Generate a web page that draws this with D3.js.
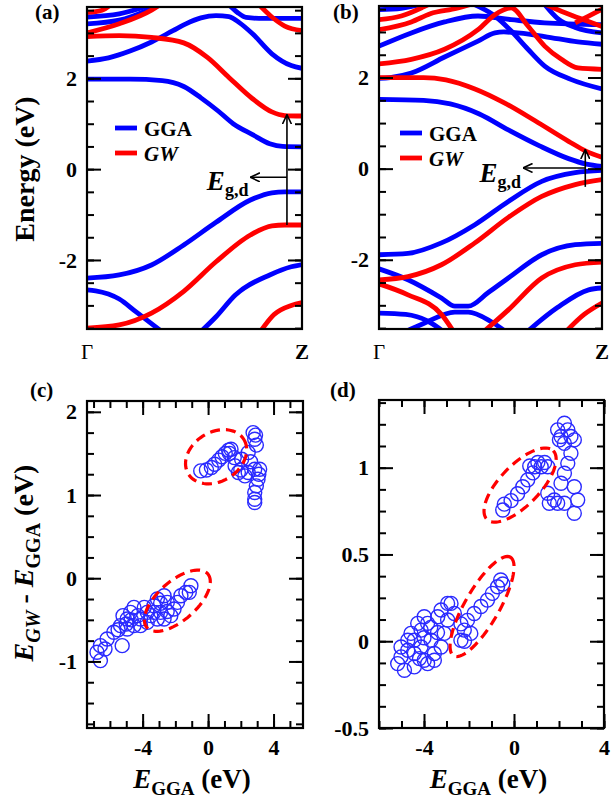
<!DOCTYPE html>
<html>
<head>
<meta charset="utf-8">
<script src="https://cdnjs.cloudflare.com/ajax/libs/d3/7.8.5/d3.min.js"></script>
<style>
body { margin: 0; background: #fff; }
svg text { font-family: "Liberation Serif", "Times New Roman", serif; font-weight: bold; }
</style>
</head>
<body>
<div id="fig"></div>
<script>
// ---------- data ----------
var kLabels = ["Γ", "Z"];
var bandRange = [-3.52, 3.57];
var bandMajor = [-2, 0, 2];
var bandMinor = d3.range(-7, 8).map(function (i) { return i * 0.5; });

// band structure (a), [k, E] with k from Γ (0) to Z (1)
var ggaA = [
    [[0, 1.98], [0.2, 1.98], [0.35, 1.95], [0.45, 1.82], [0.53, 1.57], [0.61, 1.28], [0.68, 1.0], [0.77, 0.76], [0.85, 0.56], [0.91, 0.5], [1, 0.49]],
    [[0, 2.38], [0.1, 2.45], [0.2, 2.6], [0.3, 2.8], [0.4, 3.05], [0.46, 3.2], [0.53, 3.33], [0.6, 3.38], [0.66, 3.36], [0.71, 3.22], [0.77, 2.98], [0.86, 2.54], [0.95, 2.28], [1, 2.22]],
    [[0.66, 3.62], [0.7, 3.45], [0.74, 3.34], [0.8, 3.32], [1, 3.32]],
    [[0, 3.35], [0.15, 3.42], [0.3, 3.62]],
    [[0, 3.2], [0.15, 3.28], [0.27, 3.48], [0.33, 3.62]],
    [[0, -2.4], [0.15, -2.33], [0.3, -2.11], [0.45, -1.67], [0.6, -1.17], [0.76, -0.68], [0.86, -0.52], [0.92, -0.5], [1, -0.5]],
    [[0, -2.66], [0.04, -2.68], [0.15, -2.86], [0.23, -3.15], [0.36, -3.62]],
    [[0.52, -3.62], [0.6, -3.25], [0.69, -2.77], [0.85, -2.33], [0.95, -2.15], [1, -2.1]]
];
var gwA = [
    [[0, 2.92], [0.15, 2.94], [0.3, 2.9], [0.45, 2.78], [0.56, 2.46], [0.66, 2.02], [0.77, 1.55], [0.86, 1.26], [0.92, 1.18], [1, 1.17]],
    [[0, 3.0], [0.15, 3.2], [0.3, 3.5], [0.34, 3.62]],
    [[0, 3.45], [0.07, 3.5], [0.11, 3.62]],
    [[0.8, 3.62], [0.86, 3.35], [0.92, 3.15], [1, 3.05]],
    [[0, -3.5], [0.15, -3.43], [0.3, -3.17], [0.45, -2.69], [0.6, -2.04], [0.76, -1.45], [0.86, -1.25], [0.92, -1.23], [1, -1.23]],
    [[0.8, -3.62], [0.87, -3.2], [0.95, -3.0], [1, -2.94]]
];

// band structure (b)
var ggaB = [
    [[0, 1.52], [0.2, 1.5], [0.32, 1.42], [0.45, 1.2], [0.58, 0.85], [0.72, 0.5], [0.85, 0.22], [0.93, 0.1], [1, 0.05]],
    [[0, 1.98], [0.05, 2.0], [0.145, 2.1], [0.294, 2.45], [0.444, 2.8], [0.52, 2.98], [0.56, 3.0], [0.6, 2.99], [0.743, 2.9], [0.892, 2.78], [1, 2.73]],
    [[0.42, 3.62], [0.52, 3.35], [0.593, 3.02], [0.668, 2.62], [0.743, 2.25], [0.86, 1.96], [1, 1.75]],
    [[0, 2.69], [0.145, 2.98], [0.294, 3.22], [0.444, 3.35], [0.593, 3.27], [0.743, 3.2], [1, 3.16]],
    [[0, 3.49], [0.1, 3.52], [0.2, 3.62]],
    [[0.74, 3.62], [0.8, 3.3], [0.88, 3.1], [1, 2.98]],
    [[0, -1.89], [0.13, -1.86], [0.28, -1.63], [0.43, -1.23], [0.58, -0.72], [0.73, -0.28], [0.88, -0.09], [1, -0.04]],
    [[0, -2.2], [0.13, -2.44], [0.28, -2.84], [0.34, -3.02], [0.4, -3.02], [0.49, -2.72], [0.58, -2.4], [0.73, -1.89], [0.88, -1.67], [1, -1.64]],
    [[0, -3.17], [0.12, -3.2], [0.22, -3.35], [0.3, -3.62]],
    [[0.1, -3.62], [0.2, -3.4], [0.34, -3.15], [0.4, -3.15], [0.5, -3.35], [0.58, -3.62]],
    [[0.655, -3.62], [0.8, -3.05], [0.94, -2.66], [1, -2.62]]
];
var gwB = [
    [[0, 2.0], [0.2, 2.0], [0.3, 1.95], [0.43, 1.75], [0.56, 1.45], [0.7, 1.05], [0.85, 0.6], [0.93, 0.38], [1, 0.25]],
    [[0, 2.3], [0.145, 2.4], [0.294, 2.62], [0.444, 3.05], [0.52, 3.38], [0.593, 3.53], [0.668, 3.13], [0.743, 2.69], [0.818, 2.4], [0.892, 2.21], [1, 2.18]],
    [[0, 3.05], [0.145, 3.22], [0.23, 3.4], [0.35, 3.52], [0.42, 3.62]],
    [[0, 3.27], [0.1, 3.35], [0.2, 3.55], [0.23, 3.62]],
    [[0.74, 3.62], [0.82, 3.45], [0.9, 3.3], [1, 3.12]],
    [[0.88, 3.2], [0.94, 3.35], [1, 3.5]],
    [[0, -2.44], [0.13, -2.37], [0.28, -2.11], [0.43, -1.63], [0.58, -1.07], [0.73, -0.61], [0.88, -0.35], [1, -0.24]],
    [[0, -2.53], [0.13, -2.77], [0.28, -3.2], [0.34, -3.62]],
    [[0.46, -3.62], [0.58, -3.1], [0.73, -2.4], [0.88, -2.11], [1, -2.05]],
    [[0.83, -3.62], [0.92, -3.2], [1, -2.95]]
];

// E_g,d arrows: vertical at k from E1 to E2, horizontal at E to k
var gapA = { k: 0.93, from: -1.23, to: 1.2, hE: -0.18, hk: 0.76 };
var gapB = { k: 0.925, from: -0.4, to: 0.42, hE: 0.015, hk: 0.646 };

// scatter (c): [E_GGA, E_GW - E_GGA]
var ptsC = [
    [-0.45, 1.29], [-0.1, 1.3], [0.2, 1.33], [0.4, 1.37], [0.65, 1.42], [0.85, 1.46], [1.05, 1.5], [1.25, 1.54], [1.4, 1.55], [1.3, 1.5], [1.6, 1.45],
    [2.75, 1.75], [2.85, 1.67], [2.95, 1.6], [2.9, 1.72], [2.45, 1.51], [2.05, 1.43], [1.65, 1.35], [1.85, 1.27], [2.25, 1.23], [2.85, 1.31],
    [3.15, 1.31], [3.05, 1.19], [2.95, 1.11], [2.85, 1.03], [2.85, 0.95], [2.85, 0.91], [2.45, 1.27], [3.1, 1.25], [2.6, 1.4], [2.0, 1.3],
    [-6.58, -0.99], [-6.79, -0.89], [-6.58, -0.81], [-6.17, -0.73], [-5.76, -0.65], [-5.35, -0.57], [-5.25, -0.81], [-4.94, -0.49],
    [-4.74, -0.41], [-4.53, -0.35], [-4.94, -0.61], [-4.53, -0.57], [-4.13, -0.49], [-4.13, -0.57], [-3.72, -0.41], [-3.31, -0.33],
    [-3.1, -0.25], [-2.69, -0.21], [-2.49, -0.29], [-2.9, -0.41], [-2.69, -0.49], [-2.28, -0.45], [-2.08, -0.37], [-1.87, -0.29],
    [-1.66, -0.21], [-1.36, -0.17], [-1.05, -0.09], [-1.15, -0.17], [-3.1, -0.49], [-3.31, -0.41], [-3.72, -0.53], [-5.0, -0.55],
    [-5.5, -0.62], [-4.3, -0.45], [-3.9, -0.35], [-5.2, -0.45], [-4.7, -0.5], [-6.3, -0.85], [-2.9, -0.3], [-2.5, -0.4], [-3.5, -0.45]
];
// scatter (d)
var ptsD = [
    [-0.5, 0.756], [-0.43, 0.79], [-0.13, 0.81], [0.16, 0.85], [0.39, 0.89], [0.61, 0.93], [0.84, 0.97], [0.92, 1.005], [1.06, 1.03],
    [1.36, 1.03], [1.5, 1.005], [1.21, 1.005], [0.7, 1.01],
    [2.24, 1.256], [2.39, 1.218], [2.53, 1.18], [2.09, 1.18], [2.24, 1.14], [2.68, 1.16], [2.53, 1.083], [2.39, 1.025], [2.24, 0.968],
    [2.09, 0.91], [2.68, 0.89], [2.83, 0.814], [2.68, 0.737], [2.24, 0.795], [1.94, 0.795], [1.79, 0.814], [1.5, 0.853], [1.57, 0.795],
    [1.94, 1.218], [2.02, 1.16],
    [-2.36, 0.006], [-2.21, 0.064], [-2.07, 0.12], [-1.77, 0.16], [-1.47, 0.2], [-1.18, 0.237], [-0.96, 0.276], [-0.73, 0.314],
    [-0.59, 0.353], [-0.5, 0.33], [-1.92, 0.045], [-2.36, 0.1], [-2.2, 0.0],
    [-5.17, -0.129], [-5.02, -0.09], [-4.87, -0.167], [-4.72, -0.052], [-4.43, 0.006], [-4.43, -0.071], [-4.13, 0.064], [-4.13, -0.033],
    [-3.99, -0.11], [-3.84, 0.103], [-3.69, 0.006], [-3.54, -0.071], [-3.39, 0.141], [-3.24, 0.18], [-2.95, 0.218], [-2.8, 0.218],
    [-3.1, 0.045], [-3.24, -0.033], [-3.84, -0.129], [-3.54, -0.11], [-4.43, -0.148], [-4.72, 0.006], [-4.58, 0.045], [-4.28, 0.103],
    [-3.99, 0.141], [-2.95, 0.122], [-2.65, 0.16], [-5.02, -0.033], [-4.0, 0.02], [-3.7, 0.08], [-3.4, 0.05], [-4.2, -0.1]
];
// dashed ellipses: centre and two semi-axis vectors, in data units
var ellC = [
    { c: [0.49, 1.46], a: [1.68, 0.213], b: [0.82, -0.247] },
    { c: [-1.88, -0.27], a: [1.85, 0.325], b: [0.80, -0.173] }
];
var ellD = [
    { c: [0.27, 0.90], a: [1.47, 0.198], b: [0.64, -0.080] },
    { c: [-1.42, 0.2], a: [1.26, 0.284], b: [0.66, -0.050] }
];

var blue = "#0000ff", red = "#ff0000";

var svg = d3.select("#fig").append("svg")
    .attr("width", 611)
    .attr("height", 804);

var defs = svg.append("defs");
defs.append("marker")
    .attr("id", "head")
    .attr("viewBox", "0 0 10 10")
    .attr("refX", 9.5).attr("refY", 5)
    .attr("markerWidth", 10).attr("markerHeight", 10)
    .attr("markerUnits", "userSpaceOnUse")
    .attr("orient", "auto")
    .append("path")
    .attr("d", "M0,0.5 L9.5,5 L0,9.5")
    .attr("fill", "none")
    .attr("stroke", "#000")
    .attr("stroke-width", 1.6);

// axes on all four sides of a box, ticks pointing in
function frame(box, x, y, o) {
    var g = svg.append("g");
    function ax(gen, tx, ty, vals, len, lab, pad) {
        var a = g.append("g")
            .attr("transform", "translate(" + tx + "," + ty + ")")
            .call(gen.tickValues(vals).tickSize(-len).tickPadding(pad || 10)
                .tickFormat(lab ? function (d) { return d; } : function () { return ""; }));
        a.select(".domain").remove();
        a.selectAll("line").attr("stroke-width", 2);
        a.attr("font-family", null).attr("font-size", 22);
    }
    ax(d3.axisLeft(y), box.x0, 0, o.yMinor, 7, false);
    ax(d3.axisLeft(y), box.x0, 0, o.yMajor, 14, true);
    ax(d3.axisRight(y), box.x1, 0, o.yMinor, 7, false);
    ax(d3.axisRight(y), box.x1, 0, o.yMajor, 14, false);
    if (o.xMajor) {
        ax(d3.axisBottom(x), 0, box.y1, o.xMinor, 7, false);
        ax(d3.axisBottom(x), 0, box.y1, o.xMajor, 14, true, 11);
        ax(d3.axisTop(x), 0, box.y0, o.xMinor, 7, false);
        ax(d3.axisTop(x), 0, box.y0, o.xMajor, 14, false);
    }
    g.append("rect")
        .attr("x", box.x0).attr("y", box.y0)
        .attr("width", box.x1 - box.x0).attr("height", box.y1 - box.y0)
        .attr("fill", "none").attr("stroke", "#000").attr("stroke-width", 2.2);
}

function bandPanel(box, gga, gw, id, leg, gap, egdDy) {
    var x = d3.scaleLinear().domain([0, 1]).range([box.x0, box.x1]);
    var y = d3.scaleLinear().domain(bandRange).range([box.y1, box.y0]);

    defs.append("clipPath").attr("id", id)
        .append("rect")
        .attr("x", box.x0).attr("y", box.y0)
        .attr("width", box.x1 - box.x0).attr("height", box.y1 - box.y0);

    var line = d3.line()
        .x(function (d) { return x(d[0]); })
        .y(function (d) { return y(d[1]); })
        .curve(d3.curveMonotoneX);

    var g = svg.append("g").attr("clip-path", "url(#" + id + ")");
    g.selectAll(".gga").data(gga).enter().append("path")
        .attr("class", "gga")
        .attr("d", line)
        .attr("fill", "none").attr("stroke", blue).attr("stroke-width", 4.8);
    g.selectAll(".gw").data(gw).enter().append("path")
        .attr("class", "gw")
        .attr("d", line)
        .attr("fill", "none").attr("stroke", red).attr("stroke-width", 4.8);

    frame(box, x, y, { yMajor: bandMajor, yMinor: bandMinor });

    svg.selectAll(".k" + id).data(kLabels).enter().append("text")
        .attr("class", "k" + id)
        .attr("x", function (d, i) { return x(i); })
        .attr("y", box.y1 + 30)
        .attr("text-anchor", "middle")
        .attr("font-size", 21)
        .style("font-weight", function (d, i) { return i ? "bold" : "normal"; })
        .text(function (d) { return d; });

    // legend
    var lg = svg.append("g");
    [["GGA", blue, "normal"], ["GW", red, "italic"]].forEach(function (d, i) {
        var ly = leg.y + i * 25;
        lg.append("line")
            .attr("x1", leg.x).attr("x2", leg.x + 22)
            .attr("y1", ly).attr("y2", ly)
            .attr("stroke", d[1]).attr("stroke-width", 4.8);
        lg.append("text")
            .attr("x", leg.x + 29).attr("y", ly)
            .attr("dy", "0.36em")
            .attr("font-size", 21)
            .attr("font-style", d[2])
            .text(d[0]);
    });

    // gap arrows
    svg.append("line")
        .attr("x1", x(gap.k)).attr("x2", x(gap.k))
        .attr("y1", y(gap.from)).attr("y2", y(gap.to))
        .attr("stroke", "#000").attr("stroke-width", 1.6)
        .attr("marker-end", "url(#head)");
    svg.append("line")
        .attr("x1", x(gap.k)).attr("x2", x(gap.hk))
        .attr("y1", y(gap.hE)).attr("y2", y(gap.hE))
        .attr("stroke", "#000").attr("stroke-width", 1.6)
        .attr("marker-end", "url(#head)");
    var t = svg.append("text")
        .attr("x", x(gap.hk) - 2)
        .attr("y", y(gap.hE) + egdDy)
        .attr("text-anchor", "end");
    t.append("tspan").attr("font-size", 27).attr("font-style", "italic").text("E");
    t.append("tspan").attr("font-size", 18).attr("dy", 6).text("g,d");
}

function ellipsePts(e) {
    return d3.range(0, 72).map(function (i) {
        var th = i / 72 * 2 * Math.PI;
        return [e.c[0] + Math.cos(th) * e.a[0] + Math.sin(th) * e.b[0],
                e.c[1] + Math.cos(th) * e.a[1] + Math.sin(th) * e.b[1]];
    });
}

function scatterPanel(box, xd, yd, o, pts, ells, id) {
    var x = d3.scaleLinear().domain(xd).range([box.x0, box.x1]);
    var y = d3.scaleLinear().domain(yd).range([box.y1, box.y0]);

    defs.append("clipPath").attr("id", id)
        .append("rect")
        .attr("x", box.x0).attr("y", box.y0)
        .attr("width", box.x1 - box.x0).attr("height", box.y1 - box.y0);

    var g = svg.append("g").attr("clip-path", "url(#" + id + ")");
    g.selectAll("circle").data(pts).enter().append("circle")
        .attr("cx", function (d) { return x(d[0]); })
        .attr("cy", function (d) { return y(d[1]); })
        .attr("r", 7)
        .attr("fill", "none")
        .attr("stroke", "#2a2aff")
        .attr("stroke-width", 1.4);

    var eline = d3.line()
        .x(function (d) { return x(d[0]); })
        .y(function (d) { return y(d[1]); })
        .curve(d3.curveLinearClosed);
    g.selectAll(".ell").data(ells).enter().append("path")
        .attr("class", "ell")
        .attr("d", function (d) { return eline(ellipsePts(d)); })
        .attr("fill", "none")
        .attr("stroke", red)
        .attr("stroke-width", 3.2)
        .attr("stroke-dasharray", "10,6");

    frame(box, x, y, o);

    // x label
    var t = svg.append("text")
        .attr("x", (box.x0 + box.x1) / 2 - 3)
        .attr("y", 788)
        .attr("text-anchor", "middle");
    t.append("tspan").attr("font-size", 27).attr("font-style", "italic").text("E");
    t.append("tspan").attr("font-size", 19).attr("dy", 7).text("GGA");
    t.append("tspan").attr("font-size", 27).attr("dy", -7).text(" (eV)");
}

// ---------- panels ----------
bandPanel({ x0: 87, x1: 302, y0: 7, y1: 329 }, ggaA, gwA, "ca",
    { x: 115, y: 128 }, gapA, 13);
bandPanel({ x0: 379, x1: 602, y0: 6, y1: 329 }, ggaB, gwB, "cb",
    { x: 400, y: 133 }, gapB, 14);

scatterPanel({ x0: 87, x1: 303, y0: 401, y1: 728 }, [-7.4, 5.8], [-1.8, 2.13],
    { xMajor: [-4, 0, 4], xMinor: d3.range(-7, 6),
      yMajor: [-1, 0, 1, 2], yMinor: d3.range(-7, 9).map(function (i) { return i * 0.25; }) },
    ptsC, ellC, "cc");
scatterPanel({ x0: 379, x1: 604, y0: 400, y1: 728 }, [-6, 4], [-0.5, 1.39],
    { xMajor: [-4, 0, 4], xMinor: d3.range(-6, 5),
      yMajor: [-0.5, 0, 0.5, 1], yMinor: d3.range(-4, 12).map(function (i) { return i * 0.125; }) },
    ptsD, ellD, "cd");

// y labels
svg.append("text")
    .attr("transform", "translate(34,169) rotate(-90)")
    .attr("text-anchor", "middle")
    .attr("font-size", 28)
    .text("Energy (eV)");

var yl = svg.append("text")
    .attr("transform", "translate(33,563) rotate(-90)")
    .attr("text-anchor", "middle");
yl.append("tspan").attr("font-size", 28).attr("font-style", "italic").text("E");
yl.append("tspan").attr("font-size", 20).attr("font-style", "italic").attr("dy", 7).text("GW");
yl.append("tspan").attr("font-size", 28).attr("dy", -7).text(" - ");
yl.append("tspan").attr("font-size", 28).attr("font-style", "italic").text("E");
yl.append("tspan").attr("font-size", 20).attr("dy", 7).text("GGA");
yl.append("tspan").attr("font-size", 28).attr("dy", -7).text(" (eV)");

// panel letters
var letters = [["(a)", 35, 19], ["(b)", 333, 19], ["(c)", 30, 397], ["(d)", 330, 397]];
svg.selectAll(".pl").data(letters).enter().append("text")
    .attr("class", "pl")
    .attr("x", function (d) { return d[1]; })
    .attr("y", function (d) { return d[2]; })
    .attr("font-size", 21)
    .text(function (d) { return d[0]; });
</script>
</body>
</html>
